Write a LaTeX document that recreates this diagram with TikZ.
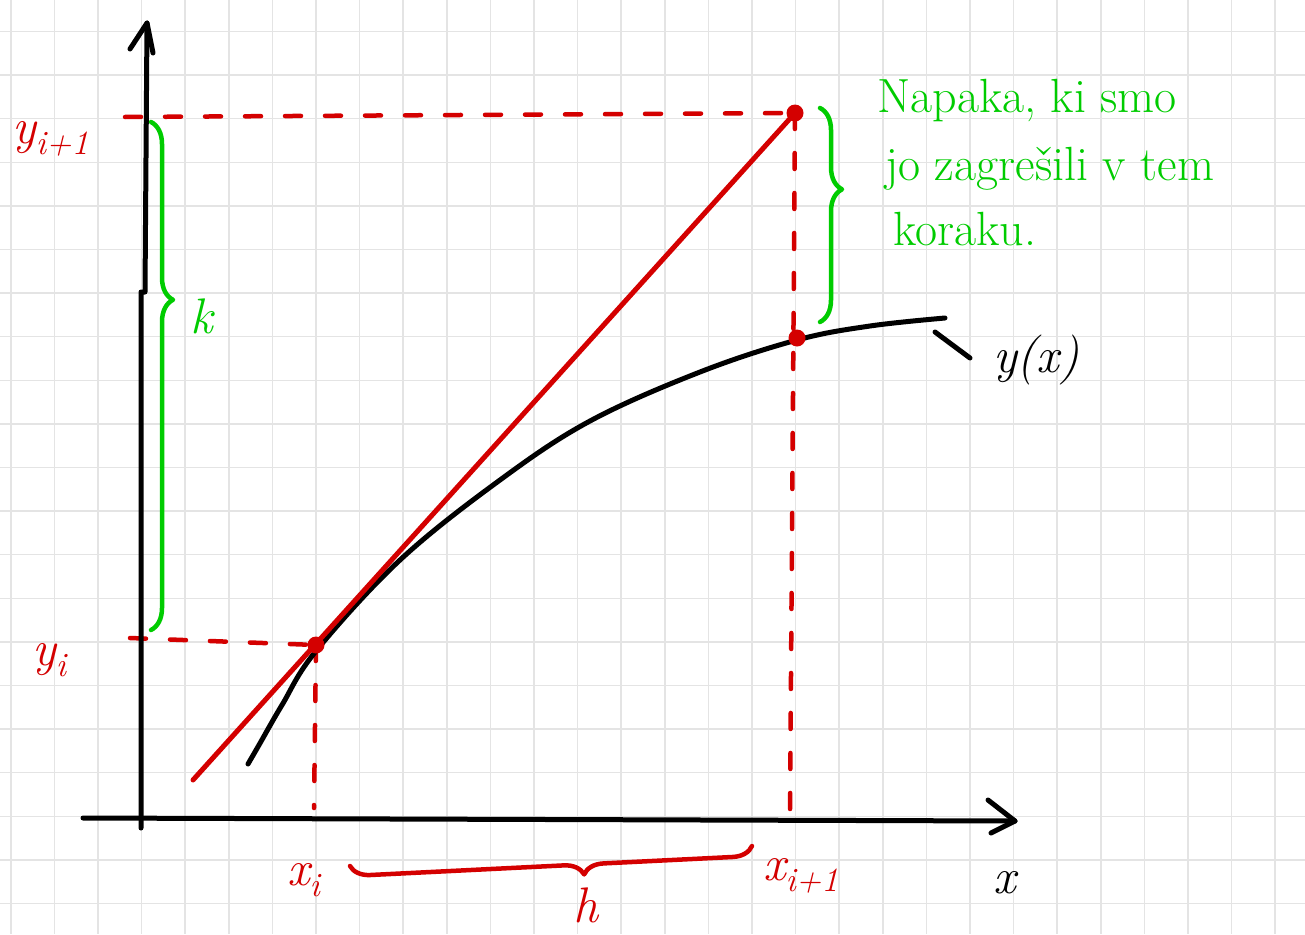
\documentclass[tikz,border=0pt]{standalone}
\usepackage{fontspec}
\usetikzlibrary{decorations.pathreplacing}
\definecolor{hred}{RGB}{212,0,0}
\definecolor{hgreen}{RGB}{0,204,0}
\definecolor{gridgray}{RGB}{228,228,228}
\newcommand{\mysub}[1]{\raisebox{-0.22em}{\fontsize{34}{40}\selectfont #1}}
\begin{document}
\begin{tikzpicture}[x=1pt,y=-1pt,
  gridline/.style={gridgray, line width=1.5pt},
  ax/.style={line width=5pt, line cap=round, line join=round, black},
  curveline/.style={line width=5pt, line cap=round, black},
  redline/.style={line width=5pt, line cap=round, hred},
  reddash/.style={line width=4.5pt, line cap=round, hred, dash pattern=on 16pt off 24pt},
  dot/.style={circle, fill=hred, minimum size=17pt, inner sep=0pt},
  gbrace/.style={line width=4.5pt, hgreen, line cap=round, line join=round, decorate},
  rbrace/.style={line width=4.5pt, hred, line cap=round, line join=round, decorate},
  lab/.style={font=\fontsize{50}{56}\selectfont\itshape, inner sep=0pt, anchor=base west},
  rlab/.style={lab, text=hred},
  glab/.style={lab, text=hgreen},
  gtext/.style={font=\fontsize{48}{56}\selectfont, text=hgreen, inner sep=0pt, anchor=base west}
]
\useasboundingbox (0,0) rectangle (1305,934);
\fill[white] (0,0) rectangle (1305,934);
% grid
\foreach \i in {0,...,29} \draw[gridline] ({10.8+43.6*\i},0) -- ({10.8+43.6*\i},934);
\foreach \j in {0,...,20} \draw[gridline] (0,{31.5+43.6*\j}) -- (1305,{31.5+43.6*\j});

% key points
\coordinate (A) at (193,780);
\coordinate (P1c) at (316,645);
\coordinate (P2c) at (795,113);
\coordinate (P3c) at (797,338);
\coordinate (Ytop) at (125,117);
\coordinate (Yi) at (130,638);
\coordinate (Bx1) at (790,815);
\coordinate (Bx0) at (314,808);

% dashed guides
\draw[reddash] (Ytop) -- (P2c);
\draw[reddash] (Yi) -- (P1c);
\draw[reddash] (P2c) -- (Bx1);
\draw[reddash] (P1c) -- (Bx0);

% exact curve y(x)
\draw[curveline] plot[smooth, tension=0.6] coordinates {(248,764) (259,745) (282,705) (316,651) (400,560) (500,480) (590,421) (700,372) (797,340) (870,326) (945,318)};

% Euler step line
\draw[redline] (A) -- (P2c);

% dots
\node[dot] (P1) at (P1c) {};
\node[dot] (P2) at (P2c) {};
\node[dot] (P3) at (P3c) {};

% axes
\coordinate (ybot) at (141,828);
\coordinate (ybrk) at (141,292);
\coordinate (ybrk2) at (145,292);
\coordinate (ytip) at (147,23);
\draw[ax] (ybot) -- (ybrk) -- (ybrk2) -- (ytip);
\draw[ax] (130,49) -- (ytip) -- (153,53);
\coordinate (xleft) at (83,818);
\coordinate (xtip) at (1015,821);
\draw[ax] (xleft) -- (xtip);
\draw[ax] (988,800) -- (xtip) -- (991,833);

% braces
\coordinate (kb0) at (151,122);
\coordinate (kb1) at (151,630);
\draw[gbrace, decoration={brace, amplitude=22pt, aspect=0.35}] (kb0) -- (kb1);
\coordinate (eb0) at (820,108);
\coordinate (eb1) at (820,322);
\draw[gbrace, decoration={brace, amplitude=22pt, aspect=0.38}] (eb0) -- (eb1);
\coordinate (hb0) at (350,866);
\coordinate (hb1) at (752,846);
\draw[rbrace, decoration={brace, mirror, amplitude=20pt, aspect=0.58}] (hb0) -- (hb1);

% labels
\node[rlab] (lyi1) at (12,143) {y\mysub{i+1}};
\node[rlab] (lyi) at (32,665) {y\mysub{i}};
\node[rlab] (lxi) at (287,885) {x\mysub{i}};
\node[rlab] (lxi1) at (763,880) {x\mysub{i+1}};
\node[rlab, anchor=base] (lh) at (586,922) {h};
\node[glab] (lk) at (190,333) {k};
\node[lab] (lx) at (993,893) {x};
\node[lab] (lyx) at (993,372) {y(x)};
\coordinate (cend) at (935,332);
\coordinate (lead) at (970,358);
\draw[curveline] (cend) -- (lead);

% green note
\node[gtext] (t1) at (877,112) {Napaka, ki smo};
\node[gtext] (t2) at (885,180) {jo zagrešili v tem};
\node[gtext] (t3) at (893,245) {koraku.};
\end{tikzpicture}
\end{document}
